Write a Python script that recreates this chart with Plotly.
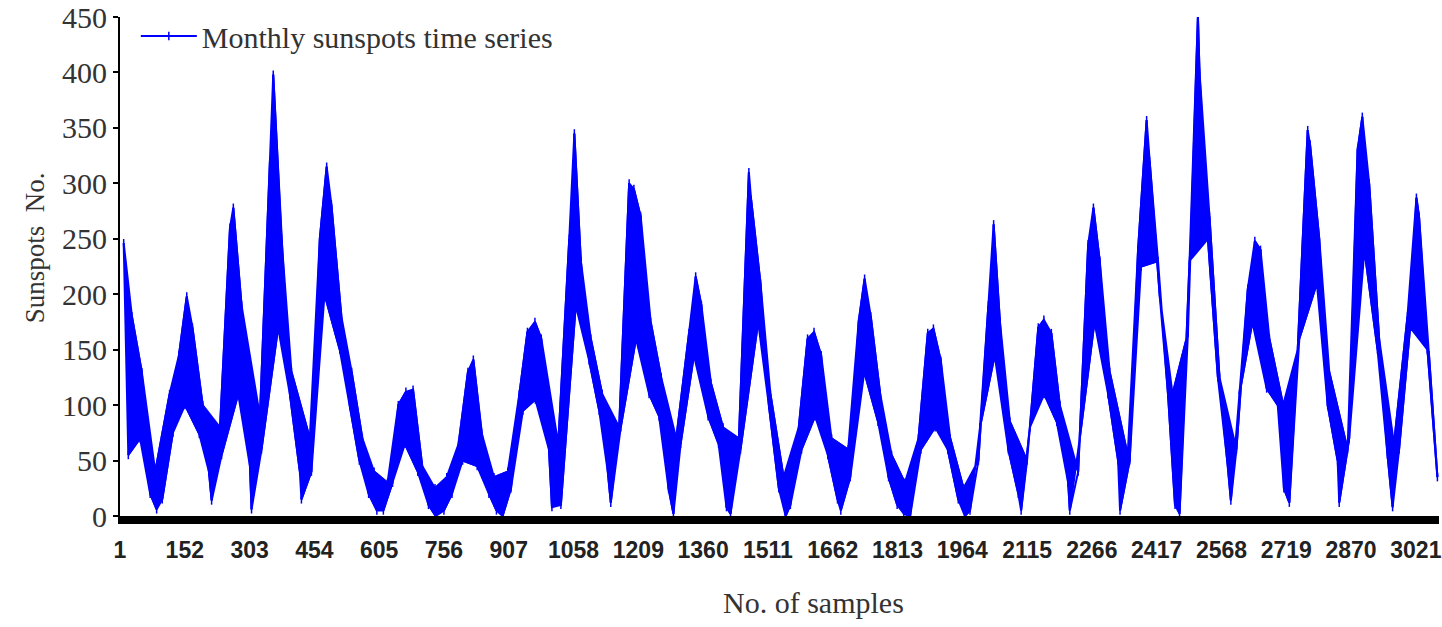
import plotly.graph_objects as go

# ---- data (upper / lower envelope of the monthly series,
#      one pair per ~23 samples) ----
env_high = [246,180,130,40,110,145,198,170,100,80,260,278,190,90,320,398,250,130,70,250,315,281,180,130,70,40,
            30,100,112,114,45,25,35,65,130,141,75,35,40,110,166,175,160,65,250,345,230,160,110,80,300,295,270,
            175,125,70,165,216,190,120,80,70,310,285,210,110,35,80,160,166,145,70,60,175,214,180,110,55,30,
            70,165,169,140,70,25,50,190,263,175,85,50,170,177,165,100,40,245,278,230,130,55,240,357,320,200,110,
            165,451,400,270,125,60,205,248,240,160,100,150,348,335,250,130,60,330,360,300,160,65,180,287,270,145]
env_low = [55,70,20,6,15,75,100,74,40,14,55,110,45,6,60,170,110,40,15,40,200,150,100,50,20,5,
           5,30,65,40,10,0,5,20,50,45,20,5,0,25,95,105,60,8,10,190,140,95,40,12,80,160,110,
           90,25,2,65,145,90,65,8,2,60,175,100,25,0,10,60,90,55,15,5,35,130,85,35,10,2,
           0,60,80,60,15,0,5,80,145,60,20,5,80,110,85,30,5,70,175,110,50,5,50,225,230,110,10,
           2,230,250,125,45,14,110,175,115,100,25,12,160,210,100,50,12,70,240,150,55,8,60,170,150,35]
bin_step = 23.256          # samples per envelope bin
first_bin_sample = 15
bin_sample = [first_bin_sample + bin_step * i for i in range(len(env_high))]

tick_samples = [1, 152, 303, 454, 605, 756, 907, 1058, 1209, 1360, 1511, 1662, 1813,
                1964, 2115, 2266, 2417, 2568, 2719, 2870, 3021]
tick_labels = [str(t) for t in tick_samples]
y_ticks = [0, 50, 100, 150, 200, 250, 300, 350, 400, 450]
n_samples = 3075

BLUE = "rgb(0,0,255)"
SERIF = "Liberation Serif, Times New Roman, serif"
SANS = "Liberation Sans, Arial, sans-serif"

# where inside each bin the max / min sits: on a rising stretch the max is late
# and the min early, on a falling stretch the opposite
n = len(env_high)
x_hi, x_lo = [], []
for i in range(n):
    a = env_high[max(i - 1, 0)]
    b = env_high[min(i + 1, n - 1)]
    trend = max(-1.0, min(1.0, (b - a) / 120.0))
    off = 0.42 * bin_step * trend
    x_hi.append(bin_sample[i] + off)
    x_lo.append(bin_sample[i] - off)

# zig-zag path through the readings (adds the noisy texture)
zx, zy = [], []
for i in range(n):
    if i % 2 == 0:
        zx += [x_hi[i], x_lo[i]]
        zy += [env_high[i], env_low[i]]
    else:
        zx += [x_lo[i], x_hi[i]]
        zy += [env_low[i], env_high[i]]

fig = go.Figure()
fig.add_trace(go.Scatter(
    x=x_hi + x_lo[::-1],
    y=env_high + env_low[::-1],
    fill="toself", fillcolor=BLUE, mode="lines",
    line=dict(color=BLUE, width=2), showlegend=False, hoverinfo="skip"))
fig.add_trace(go.Scatter(
    x=zx, y=zy, mode="lines+markers", name="Monthly sunspots time series",
    line=dict(color=BLUE, width=2),
    marker=dict(symbol="line-ns", size=6, line=dict(color=BLUE, width=1.5), color=BLUE)))

fig.update_layout(
    width=1442, height=627,
    margin=dict(l=120, r=0, t=17, b=111),
    paper_bgcolor="white", plot_bgcolor="white",
    showlegend=True,
    legend=dict(x=0.012, y=0.962, xanchor="left", yanchor="middle",
                font=dict(family=SERIF, size=30, color="#333"),
                bgcolor="rgba(0,0,0,0)", itemwidth=56),
    xaxis=dict(range=[1, n_samples], tickmode="array", tickvals=tick_samples, ticktext=tick_labels,
               showgrid=False, zeroline=False, showline=True, linecolor="black", linewidth=8,
               ticks="outside", ticklen=6, tickcolor="rgba(0,0,0,0)", ticklabeloverflow="allow",
               tickfont=dict(family=SANS, size=23, color="#222", weight="bold")),
    yaxis=dict(range=[0, 450], tickmode="array", tickvals=y_ticks,
               showgrid=False, zeroline=False, showline=True, linecolor="black", linewidth=2,
               ticks="outside", ticklen=5, tickcolor="black", tickwidth=2,
               tickfont=dict(family=SERIF, size=30, color="#333")),
    annotations=[
        dict(text="No. of samples", xref="paper", yref="paper", x=0.5257, y=-0.1743,
             xanchor="center", yanchor="middle", showarrow=False,
             font=dict(family=SERIF, size=30, color="#333")),
        dict(text="Sunspots  No.", xref="paper", yref="paper", x=-0.0643, y=0.537,
             xanchor="center", yanchor="middle", showarrow=False, textangle=-90,
             font=dict(family=SERIF, size=27, color="#333")),
    ],
)

fig.write_html("out.html", config={"displayModeBar": False},
               post_script="document.body.style.margin='0px';")
